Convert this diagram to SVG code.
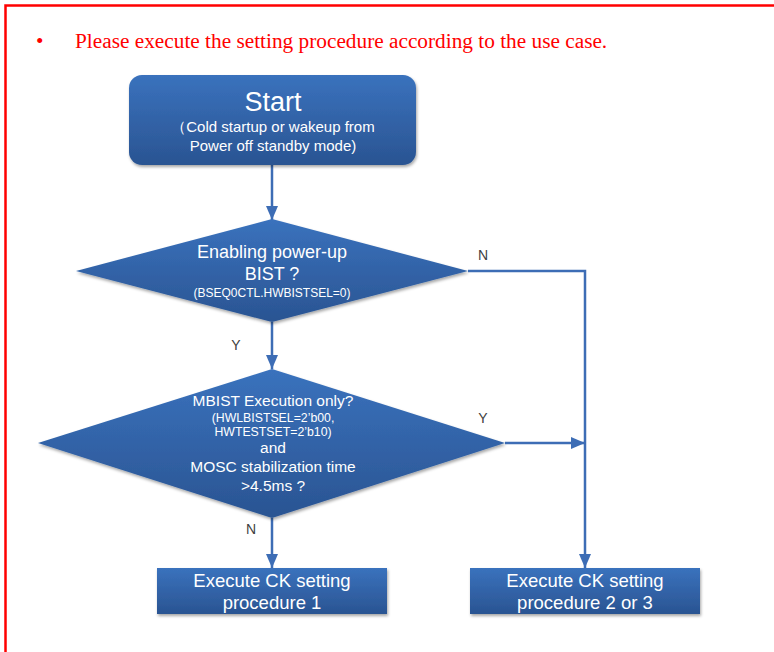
<svg xmlns="http://www.w3.org/2000/svg" width="774" height="652" viewBox="0 0 774 652">
  <defs>
    <linearGradient id="fillBlue" x1="0" y1="0" x2="0" y2="1">
      <stop offset="0" stop-color="#3a72bd"/>
      <stop offset="1" stop-color="#2a5492"/>
    </linearGradient>
    <filter id="shade" x="-10%" y="-10%" width="125%" height="130%">
      <feDropShadow dx="1" dy="2" stdDeviation="1.5" flood-color="#000" flood-opacity="0.35"/>
    </filter>
    <marker id="arrow" viewBox="0 0 14 12" refX="14" refY="6" markerWidth="14" markerHeight="12" markerUnits="userSpaceOnUse" orient="auto">
      <path d="M0,0 L14,6 L0,12 Z" fill="#3d6db5"/>
    </marker>
    <style>
      .shape { fill: url(#fillBlue); filter: url(#shade); }
      .wire { fill: none; stroke: #3d6db5; stroke-width: 2.5; }
      .lbl { font-family: "Liberation Sans", Arial, sans-serif; fill: #ffffff; text-anchor: middle; }
      .yn { font-family: "Liberation Sans", Arial, sans-serif; fill: #404040; font-size: 14px; text-anchor: middle; }
    </style>
  </defs>

  <rect width="774" height="652" fill="#ffffff"/>
  <!-- red frame -->
  <rect x="5.5" y="5.5" width="790" height="680" fill="none" stroke="#ff0000" stroke-width="2.5"/>

  <!-- heading note -->
  <g id="note" font-family="'Liberation Serif', 'Times New Roman', serif" font-size="21.3" fill="#ff0000">
    <text x="36" y="48">•</text>
    <text x="75" y="48">Please execute the setting procedure according to the use case.</text>
  </g>

  <!-- connectors -->
  <g id="connectors">
    <path class="wire" d="M272,165 L272,220" marker-end="url(#arrow)"/>
    <path class="wire" d="M272,322 L272,369" marker-end="url(#arrow)"/>
    <path class="wire" d="M468,271 L585,271 L585,568" marker-end="url(#arrow)"/>
    <path class="wire" d="M505,443 L585,443" marker-end="url(#arrow)"/>
    <path class="wire" d="M272,518 L272,568" marker-end="url(#arrow)"/>
    <text class="yn" x="483" y="260">N</text>
    <text class="yn" x="236" y="350">Y</text>
    <text class="yn" x="483" y="423">Y</text>
    <text class="yn" x="251" y="534">N</text>
  </g>

  <!-- start node -->
  <g id="start">
    <rect class="shape" x="129" y="75" width="287" height="90" rx="13" ry="13"/>
    <text class="lbl" x="273" y="111" font-size="27">Start</text>
    <text class="lbl" x="273" y="132" font-size="15">（Cold startup or wakeup from</text>
    <text class="lbl" x="273" y="151" font-size="15">Power off standby mode)</text>
  </g>

  <!-- decision: power-up BIST -->
  <g id="bist-enabled">
    <polygon class="shape" points="272,219 468,271 272,322 76,271"/>
    <text class="lbl" x="272" y="258" font-size="18">Enabling power-up</text>
    <text class="lbl" x="272" y="280" font-size="18">BIST ?</text>
    <text class="lbl" x="272" y="297" font-size="12">(BSEQ0CTL.HWBISTSEL=0)</text>
  </g>

  <!-- decision: MBIST only and MOSC time -->
  <g id="mbist-only">
    <polygon class="shape" points="272,369 505,443 272,518 38,443"/>
    <text class="lbl" x="273" y="406" font-size="15.5">MBIST Execution only?</text>
    <text class="lbl" x="273" y="422" font-size="12.3">(HWLBISTSEL=2’b00,</text>
    <text class="lbl" x="273" y="436" font-size="12.3">HWTESTSET=2’b10)</text>
    <text class="lbl" x="273" y="453" font-size="15.5">and</text>
    <text class="lbl" x="273" y="472" font-size="15.5">MOSC stabilization time</text>
    <text class="lbl" x="273" y="491" font-size="15.5">&gt;4.5ms ?</text>
  </g>

  <!-- procedure 1 -->
  <g id="proc1">
    <rect class="shape" x="157" y="568" width="230" height="46"/>
    <text class="lbl" x="272" y="587" font-size="18.5">Execute CK setting</text>
    <text class="lbl" x="272" y="609" font-size="18.5">procedure 1</text>
  </g>

  <!-- procedure 2 or 3 -->
  <g id="proc23">
    <rect class="shape" x="470" y="568" width="230" height="46"/>
    <text class="lbl" x="585" y="587" font-size="18.5">Execute CK setting</text>
    <text class="lbl" x="585" y="609" font-size="18.5">procedure 2 or 3</text>
  </g>
</svg>
